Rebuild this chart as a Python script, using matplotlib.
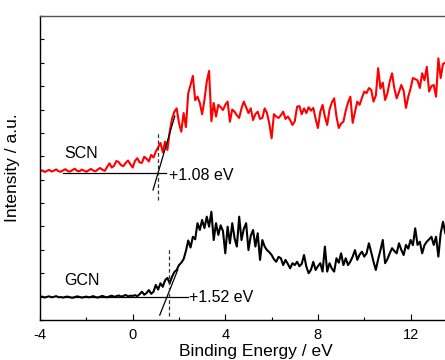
import numpy as np
import matplotlib
matplotlib.use("Agg")
import matplotlib.pyplot as plt

plt.rcParams['font.family'] = ['Liberation Sans', 'DejaVu Sans']
plt.rcParams['axes.unicode_minus'] = False

# Binding energy grid (eV), step 0.1 from -4.0 to 13.5
energy = np.round(np.arange(-4.0, 13.55, 0.1), 2)

scn = [
    6.36, 6.40, 6.33, 6.38, 6.42, 6.35, 6.39, 6.44, 6.36, 6.34,
    6.40, 6.45, 6.37, 6.35, 6.41, 6.47, 6.38, 6.36, 6.43, 6.39,
    6.34, 6.40, 6.46, 6.39, 6.36, 6.44, 6.50, 6.42, 6.38, 6.55,
    6.70, 6.52, 6.60, 6.80, 6.75, 6.62, 6.58, 6.72, 6.82, 6.66,
    6.52, 6.80, 6.92, 6.74, 6.72, 6.98, 6.90, 6.78, 7.06, 6.95,
    7.20, 7.38, 7.57, 7.17, 7.63, 7.27, 8.05, 8.60, 8.90, 9.05,
    8.43, 8.05, 8.85, 8.25, 9.70, 10.05, 10.44, 9.40, 9.55, 9.28,
    8.80, 9.41, 10.20, 10.65, 8.50, 9.28, 8.70, 9.20, 9.10, 8.98,
    9.20, 9.34, 8.48, 9.00, 8.91, 8.75, 8.64, 9.05, 9.34, 9.10,
    8.85, 9.05, 8.55, 8.80, 8.91, 8.60, 8.64, 9.05, 8.85, 8.40,
    7.77, 8.80, 8.70, 8.64, 8.75, 8.91, 8.60, 8.70, 8.55, 8.34,
    8.50, 9.12, 9.15, 8.80, 9.05, 8.85, 9.10, 8.95, 9.07, 8.60,
    8.21, 8.90, 9.20, 8.70, 8.34, 9.00, 9.30, 9.48, 8.70, 8.21,
    8.40, 8.48, 8.95, 9.30, 9.55, 8.43, 8.90, 9.34, 9.20, 9.50,
    9.77, 9.70, 9.92, 9.84, 9.34, 9.60, 10.77, 9.90, 10.15, 9.41,
    9.70, 10.20, 10.55, 9.90, 9.48, 9.75, 10.05, 9.80, 9.07, 9.55,
    9.90, 10.35, 10.30, 10.25, 9.92, 10.55, 10.25, 10.83, 9.77, 10.00,
    10.05, 9.55, 11.19, 10.35, 10.95, 11.00,
]

gcn = [
    0.98, 1.00, 0.96, 0.99, 1.01, 0.97, 0.99, 1.02, 0.97, 0.98,
    0.96, 0.99, 1.00, 0.97, 0.95, 0.98, 1.01, 0.99, 0.96, 0.98,
    1.00, 0.97, 0.99, 1.02, 0.98, 0.96, 1.00, 1.03, 0.99, 0.97,
    1.01, 1.04, 0.99, 1.02, 1.05, 1.00, 1.03, 1.07, 1.01, 1.04,
    1.03, 1.06, 1.02, 1.10, 1.21, 1.08, 1.15, 1.28, 1.12, 1.21,
    1.50, 1.30, 1.57, 1.42, 1.70, 1.80, 1.57, 1.85, 2.05, 2.14,
    2.35, 2.45, 2.60, 2.95, 3.40, 3.10, 3.56, 3.45, 4.14, 3.85,
    4.28, 3.93, 4.42, 3.99, 4.63, 3.42, 4.14, 3.64, 4.05, 3.80,
    2.85, 3.99, 3.28, 4.14, 3.50, 3.14, 4.42, 3.42, 3.90, 4.14,
    2.99, 3.60, 3.85, 3.14, 3.71, 2.57, 3.42, 3.14, 2.99, 2.90,
    2.78, 2.60, 2.49, 2.70, 2.64, 2.35, 2.57, 2.40, 2.21, 2.43,
    2.35, 2.49, 2.30, 2.40, 2.78, 2.28, 2.00, 2.15, 2.49, 2.14,
    2.30, 2.43, 2.07, 3.14, 2.07, 2.43, 2.20, 2.07, 2.64, 2.45,
    2.85, 2.35, 2.64, 2.35, 2.50, 2.71, 2.99, 2.57, 2.80, 2.92,
    2.71, 2.85, 3.28, 2.90, 2.49, 2.14, 2.60, 2.99, 3.42, 2.43,
    2.60, 2.85, 3.07, 2.95, 2.85, 3.28, 3.00, 2.78, 3.21, 3.05,
    3.42, 3.20, 3.92, 3.21, 3.35, 2.85, 3.20, 3.35, 3.45, 3.56,
    3.21, 3.56, 2.71, 3.71, 4.20, 3.71,
]

# Onset construction lines
scn_base_x = [-3.0, 1.46]
scn_base_y = [6.27, 6.27]
scn_tan_x = [0.88, 1.82]
scn_tan_y = [5.56, 8.72]
scn_onset = 1.08
scn_dash_y = [5.13, 8.0]

gcn_base_x = [-3.0, 2.38]
gcn_base_y = [0.97, 0.97]
gcn_tan_x = [1.17, 1.95]
gcn_tan_y = [0.21, 2.15]
gcn_onset = 1.56
gcn_dash_y = [0.17, 3.08]

fig = plt.figure(figsize=(4.45, 3.6), dpi=100)
ax = fig.add_axes([40/445, 40/360, (456.9-40)/445, 304/360])

ax.plot(energy, scn, color='#ff0000', lw=1.5)
ax.plot(energy, gcn, color='black', lw=1.5)

ax.plot(scn_base_x, scn_base_y, color='black', lw=0.9)
ax.plot(scn_tan_x, scn_tan_y, color='black', lw=0.9)
ax.plot([scn_onset, scn_onset], scn_dash_y, color='#333333', lw=0.9, ls=(0, (3, 2)))
ax.plot(gcn_base_x, gcn_base_y, color='black', lw=0.9)
ax.plot(gcn_tan_x, gcn_tan_y, color='black', lw=0.9)
ax.plot([gcn_onset, gcn_onset], gcn_dash_y, color='#333333', lw=0.9, ls=(0, (3, 2)))

ax.text(1.58, 6.2, '+1.08 eV', fontsize=11.5, va='center', ha='left')
ax.text(2.45, 0.95, '+1.52 eV', fontsize=11.5, va='center', ha='left')
ax.text(-2.95, 7.1, 'SCN', fontsize=11.5, va='center', ha='left')
ax.text(-2.95, 1.71, 'GCN', fontsize=11.5, va='center', ha='left')

ax.set_xlim(-4, 14)
ax.set_ylim(0, 13)
ax.set_xticks([-4, 0, 4, 8, 12])
ax.set_xticks([-2, 2, 6, 10], minor=True)
ax.set_yticks(range(0, 14))
ax.set_yticklabels([])
ax.tick_params(axis='both', which='major', direction='in', length=4, width=0.8, labelsize=10.5, pad=6)
ax.tick_params(axis='x', which='minor', direction='in', length=2.5, width=0.8)
ax.tick_params(axis='y', which='major', length=3)
ax.spines['right'].set_visible(False)
ax.spines['top'].set_color('#555555')
for s in ['left', 'bottom', 'top']:
    ax.spines[s].set_linewidth(1.0)

ax.set_xlabel('Binding Energy / eV', fontsize=12.5, labelpad=1)
ax.xaxis.set_label_coords((255.5-40)/416.9, -0.08)
ax.set_ylabel('Intensity / a.u.', fontsize=12.5)
ax.yaxis.set_label_coords(-0.048, 0.5)

fig.savefig('out.png', dpi=100)
